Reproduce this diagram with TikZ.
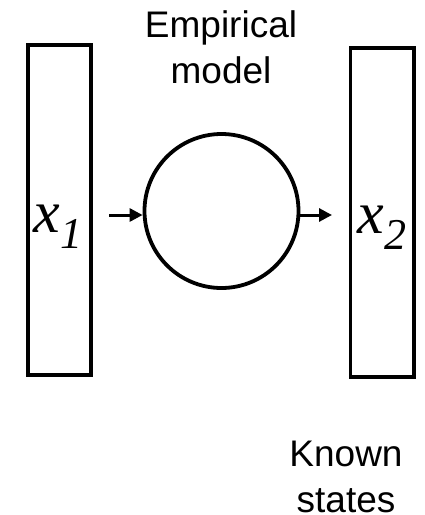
\documentclass[tikz,border=0pt]{standalone}
\usepackage{fontspec}
\setmainfont{Liberation Sans}
\newfontfamily\mathserif{Liberation Serif}
\usetikzlibrary{arrows.meta}
\tikzset{
  statebox/.style={draw, line width=3.8pt, inner sep=0pt},
  modelcircle/.style={draw, circle, line width=3.8pt, inner sep=0pt, minimum size=154pt},
  arr/.style={line width=3pt, -{Triangle[length=13pt,width=13pt]}},
  lbl/.style={font=\fontsize{37}{46}\selectfont, align=center, inner sep=0pt},
  varlbl/.style={inner sep=0pt, anchor=base}
}
\newcommand{\statevar}[1]{{\mathserif\itshape\fontsize{60}{60}\selectfont x\raisebox{-16pt}{\fontsize{44}{44}\selectfont #1}}}
\begin{document}
\begin{tikzpicture}[x=1pt,y=-1pt]
\useasboundingbox (0,0) rectangle (424,515);
\node[statebox, minimum width=63pt, minimum height=330pt] (r1) at (59.5,210) {};
\node[statebox, minimum width=63.5pt, minimum height=329pt] (r2) at (382.25,212.5) {};
\node[modelcircle] (m) at (221.5,211) {};
\node[varlbl] (x1) at (58,232) {\statevar{1}};
\node[varlbl] (x2) at (382,233) {\statevar{2}};
\coordinate (a1) at (109,215);
\coordinate (a2) at (332,215);
\draw[arr] (a1) -- (a1 -| m.west);
\draw[arr] (a2 -| m.east) -- (a2);
\node[lbl, anchor=base] (em) at (221,83) {Empirical\\model};
\node[lbl, anchor=base] (ks) at (346,512) {Known\\states};
\end{tikzpicture}
\end{document}
